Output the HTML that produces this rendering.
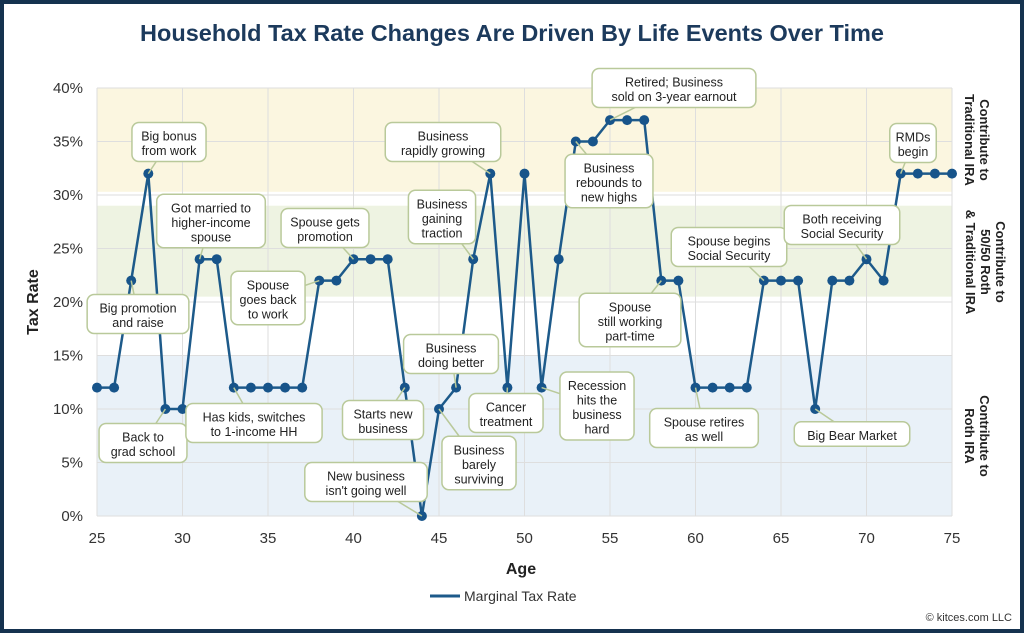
<!DOCTYPE html>
<html><head><meta charset="utf-8"><style>
body{margin:0;background:#fff}
svg{display:block;font-family:"Liberation Sans",sans-serif}
</style></head><body>
<svg id="chart" width="1024" height="633" viewBox="0 0 1024 633">
<rect x="2" y="2" width="1020" height="629" fill="#fff" stroke="#15324f" stroke-width="4"/>
<text x="512" y="41" text-anchor="middle" font-size="23.5" font-weight="bold" fill="#1c3a5c">Household Tax Rate Changes Are Driven By Life Events Over Time</text>
<g id="bands"></g><g id="grid"></g><g id="axes"></g><g id="series"></g><g id="notes"></g>
<text transform="translate(38,302) rotate(-90)" text-anchor="middle" font-size="16" font-weight="bold" fill="#222">Tax Rate</text>
<text x="521" y="574" text-anchor="middle" font-size="16" font-weight="bold" fill="#222">Age</text>
<g><line x1="430" y1="596" x2="460" y2="596" stroke="#1d5a8a" stroke-width="3"/><text x="464" y="601" font-size="14" fill="#333">Marginal Tax Rate</text></g>
<text x="1012" y="621" text-anchor="end" font-size="11" fill="#333">© kitces.com LLC</text>
<g font-size="13" font-weight="bold" fill="#222" text-anchor="middle">
<text transform="translate(980,140) rotate(90)"><tspan x="0" dy="0">Contribute to</tspan><tspan x="0" dy="15">Traditional IRA</tspan></text>
<text transform="translate(996,262) rotate(90)"><tspan x="0" dy="0">Contribute to</tspan><tspan x="0" dy="15">50/50 Roth</tspan><tspan x="0" dy="15">&amp; Traditional IRA</tspan></text>
<text transform="translate(980,436) rotate(90)"><tspan x="0" dy="0">Contribute to</tspan><tspan x="0" dy="15">Roth IRA</tspan></text>
</g>
</svg>
<script>
const ages=[25,26,27,28,29,30,31,32,33,34,35,36,37,38,39,40,41,42,43,44,45,46,47,48,49,50,51,52,53,54,55,56,57,58,59,60,61,62,63,64,65,66,67,68,69,70,71,72,73,74,75];
const rates=[12,12,22,32,10,10,24,24,12,12,12,12,12,22,22,24,24,24,12,0,10,12,24,32,12,32,12,24,35,35,37,37,37,22,22,12,12,12,12,22,22,22,10,22,22,24,22,32,32,32,32];
const xTicks=[25,30,35,40,45,50,55,60,65,70,75];
const yTicks=[0,5,10,15,20,25,30,35,40];
const bandLo=[30.3,20.5,0];
const bandHi=[40,29,15];
const bandColors=["#fbf6e0","#eef3e2","#e9f1f8"];
const notes=[
[28,"Big bonus|from work",169,142],[27,"Big promotion|and raise",138,314],[29,"Back to|grad school",143,443],
[31,"Got married to|higher-income|spouse",211,221],[33,"Has kids, switches|to 1-income HH",254,423],[38,"Spouse|goes back|to work",268,298],
[40,"Spouse gets|promotion",325,228],[43,"Starts new|business",383,420],[44,"New business|isn't going well",366,482],
[48,"Business|rapidly growing",443,142],[47,"Business|gaining|traction",442,217],[46,"Business|doing better",451,354],
[49,"Cancer|treatment",506,413],[45,"Business|barely|surviving",479,463],[51,"Recession|hits the|business|hard",597,406],
[53,"Business|rebounds to|new highs",609,181],[55,"Retired; Business|sold on 3-year earnout",674,88],[58,"Spouse|still working|part-time",630,320],
[64,"Spouse begins|Social Security",729,247],[60,"Spouse retires|as well",704,428],[70,"Both receiving|Social Security",842,225],
[67,"Big Bear Market",852,434],[72,"RMDs|begin",913,143]];
const X=a=>97+(a-25)*(952-97)/50, Y=v=>516-v*(516-88)/40;
const NS="http://www.w3.org/2000/svg";
function mk(p,t,at){const e=document.createElementNS(NS,t);for(const k in at)e.setAttribute(k,at[k]);p.appendChild(e);return e;}
const bands=document.getElementById('bands'),grid=document.getElementById('grid'),axes=document.getElementById('axes'),series=document.getElementById('series'),nt=document.getElementById('notes');
bandLo.forEach((lo,i)=>{const r=mk(bands,'rect',{x:X(25),y:Y(bandHi[i]),width:X(75)-X(25),height:Y(lo)-Y(bandHi[i]),fill:bandColors[i]});

});
xTicks.forEach(t=>{const l=mk(grid,'line',{x1:X(t),x2:X(t),y1:Y(0),y2:Y(40),stroke:'#dedede'});


const tx=mk(axes,'text',{x:X(t),y:543,'text-anchor':'middle','font-size':15,fill:'#333'});tx.textContent=t;

});
yTicks.forEach(t=>{const l=mk(grid,'line',{x1:X(25),x2:X(75),y1:Y(t),y2:Y(t),stroke:'#dedede'});


const tx=mk(axes,'text',{x:83,y:Y(t)+5,'text-anchor':'end','font-size':15,fill:'#333'});tx.textContent=t+'%';

});
const pl=mk(series,'polyline',{points:ages.map((a,i)=>X(a)+','+Y(rates[i])).join(' '),fill:'none',stroke:'#1d5a8a','stroke-width':2.5});


ages.forEach((a,i)=>{const c=mk(series,'circle',{cx:X(a),cy:Y(rates[i]),r:5,fill:'#17548a'});

});
notes.forEach(n=>{const lines=n[1].split('|');const g=mk(nt,'g',{});


const w=Math.max(...lines.map(s=>s.length))*6.9+12,h=lines.length*14.5+10;
const ai=ages.indexOf(n[0]);
mk(g,'line',{x1:n[2],y1:n[3],x2:X(n[0]),y2:Y(rates[ai]),stroke:'#b9c99a','stroke-width':1.5});
mk(g,'rect',{x:n[2]-w/2,y:n[3]-h/2,width:w,height:h,rx:7,fill:'#fff',stroke:'#b9c99a','stroke-width':1.5});
lines.forEach((s,j)=>{const t=mk(g,'text',{x:n[2],y:n[3]-h/2+18+j*14.5,'text-anchor':'middle','font-size':12.5,fill:'#222'});t.textContent=s;});});
</script>
</body></html>
